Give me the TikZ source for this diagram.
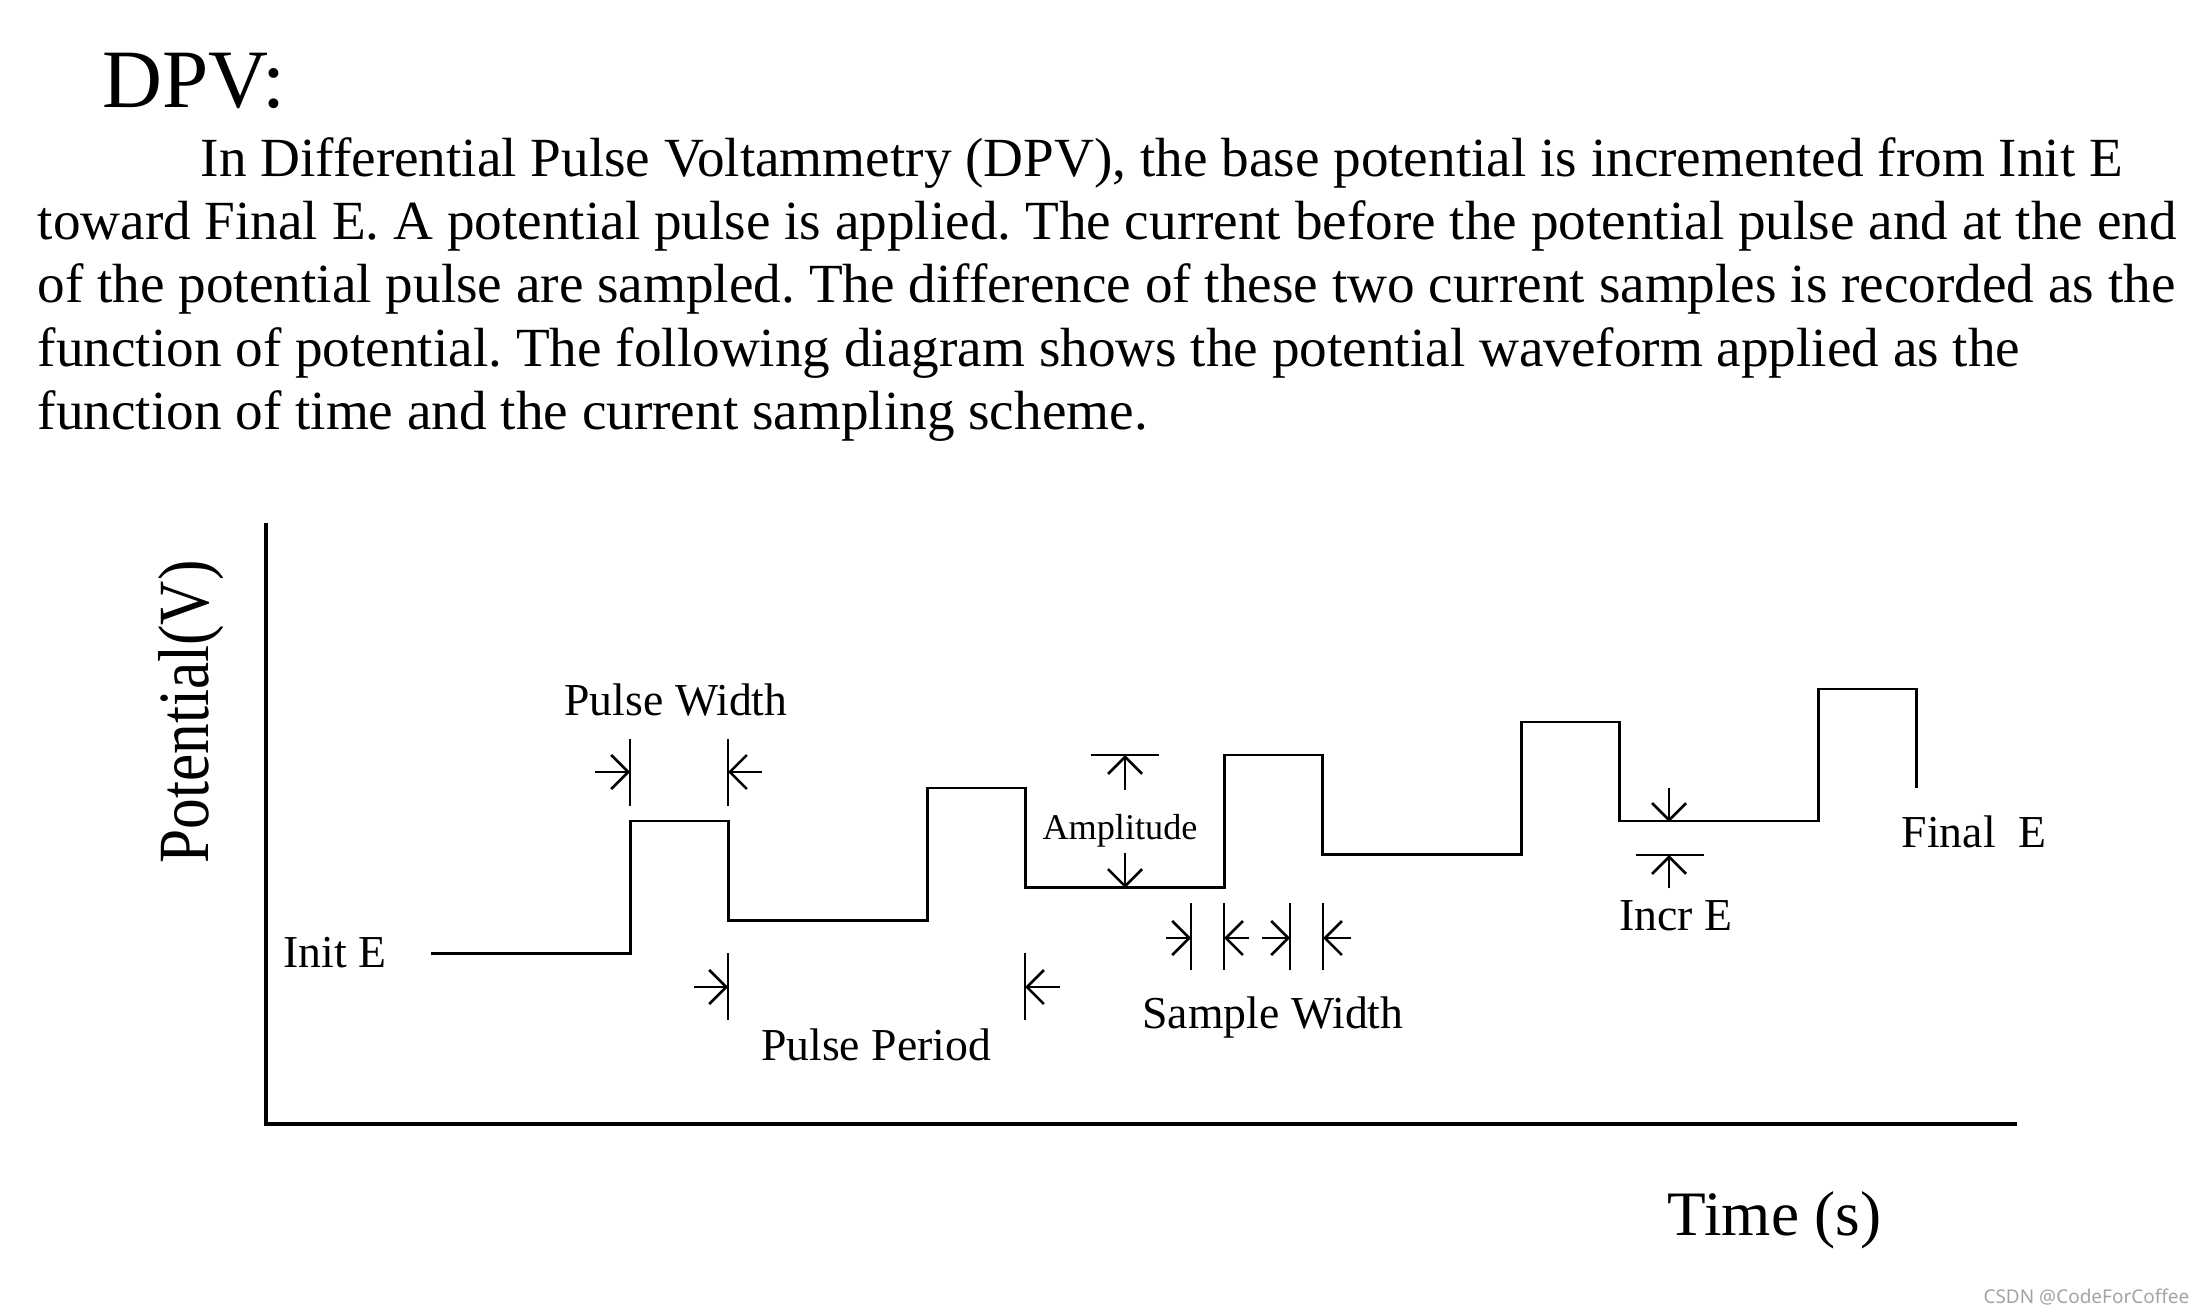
\documentclass[tikz,border=0pt]{standalone}
\usepackage{fontspec}
\setmainfont[Ligatures=CommonOff]{Liberation Serif}
\newfontfamily\marque{Noto Sans}
\usetikzlibrary{arrows.meta}
\definecolor{filigrane}{HTML}{A3A3A3}
\frenchspacing

\begin{document}
\begin{tikzpicture}[
  x=0.01cm, y=-0.01cm,
  corps/.style={anchor=base west, inner sep=0pt,
                font=\fontsize{15.7pt}{18pt}\selectfont},
  lab/.style={anchor=base, inner sep=0pt, font=\fontsize{13pt}{15pt}\selectfont},
  axe/.style={line width=1.1pt},
  onde/.style={line width=0.85pt, line join=miter},
  trait/.style={line width=0.75pt},
  cote/.style={trait, -{Straight Barb[length=1.7mm, width=3.4mm]}},
]
\useasboundingbox (0,0) rectangle (2204,1316);
% ---- titre et texte
\node[anchor=base west, inner sep=0pt, font=\fontsize{23.6pt}{28pt}\selectfont]
  (titre) at (102,108) {DPV:};
\node[corps] (l1) at (200,177) {In Differential Pulse Voltammetry (DPV), the base potential is incremented from Init E};
\node[corps] (l2) at (37,240) {toward Final E. A potential pulse is applied. The current before the potential pulse and at the end};
\node[corps] (l3) at (37,303) {of the potential pulse are sampled. The difference of these two current samples is recorded as the};
\node[corps] (l4) at (37,367) {function of potential. The following diagram shows the potential waveform applied as the};
\node[corps] (l5) at (37,430) {function of time and the current sampling scheme.};
% ---- axes
\draw[axe] (266,523) |- (2017,1124);
\node[rotate=90, anchor=base, inner sep=0pt, font=\fontsize{20.5pt}{24pt}\selectfont]
  (ordonnee) at (208,712) {\scalebox{0.85}[1]{Potential(V)}};
\node[anchor=base west, inner sep=0pt, font=\fontsize{18pt}{22pt}\selectfont]
  (abscisse) at (1667,1235) {Time (s)};
% ---- forme d'onde : palier de base, puis impulsion, cinq fois
\draw[onde] (431,953)
  \foreach \k in {0,...,4} {
    -- ({630+297*\k},{953-33*\k}) -- ({630+297*\k},{821-33*\k})
    -- ({728+297*\k},{821-33*\k}) -- ({728+297*\k},{920-33*\k})
  };
\node[lab, anchor=base west] (init) at (283,967) {Init E};
\node[lab, anchor=base west] (final) at (1901,847) {Final\ \ E};
% ---- largeur d'impulsion
\draw[trait] (630,739) -- (630,806);
\draw[trait] (728,739) -- (728,806);
\draw[cote] (595,772) -- (630,772);
\draw[cote] (762,772) -- (728,772);
\node[lab] (largeur) at (676,715) {Pulse Width};
% ---- période
\draw[trait] (728,953) -- (728,1020);
\draw[trait] (1025,953) -- (1025,1020);
\draw[cote] (694,987) -- (728,987);
\draw[cote] (1060,987) -- (1025,987);
\node[lab] (periode) at (876,1060) {Pulse Period};
% ---- amplitude
\draw[trait] (1091,755) -- (1159,755);
\draw[cote] (1125,790) -- (1125,755);
\draw[cote] (1125,853) -- (1125,888);
\node[lab, font=\fontsize{10.3pt}{12pt}\selectfont] (amplitude) at (1120,839) {Amplitude};
% ---- fenêtres d'échantillonnage
\foreach \xx in {1191,1224,1290,1323}
  \draw[trait] (\xx,903) -- (\xx,970);
\draw[cote] (1166,938) -- (1191,938);
\draw[cote] (1249,938) -- (1224,938);
\draw[cote] (1262,938) -- (1290,938);
\draw[cote] (1351,938) -- (1323,938);
\node[lab] (echantillon) at (1273,1028) {Sample Width};
% ---- incrément
\draw[cote] (1669,788) -- (1669,822);
\draw[trait] (1636,855) -- (1704,855);
\draw[cote] (1669,888) -- (1669,855);
\node[lab] (increment) at (1676,930) {Incr E};
% ---- filigrane
\node[anchor=base east, inner sep=0pt, text=filigrane,
      font=\marque\fontsize{5.4pt}{6pt}\selectfont] (csdn) at (2190,1303) {CSDN @CodeForCoffee};
\end{tikzpicture}
\end{document}
